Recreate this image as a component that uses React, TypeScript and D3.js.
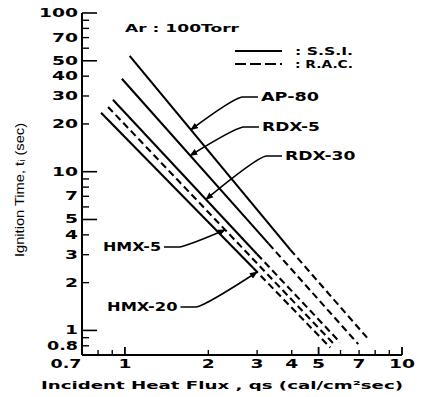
import React from "react";
import * as d3 from "d3";

// Axis ticks (log-log)
const xTickValues = [1, 2, 3, 4, 5, 7, 10];
const xMinorTicks = [0.8, 0.9, 2, 3, 4, 6, 7, 8, 9];
const xMajorTicks = [1, 5, 10];
const yTickValues = [100, 70, 50, 40, 30, 20, 10, 7, 5, 4, 3, 2, 1, 0.8];
const yMajorTicks = [100, 50, 10, 5, 1];
const yMinorTicks = [90, 80, 70, 60, 40, 30, 20, 9, 8, 7, 6, 4, 3, 2, 0.9, 0.8];

// Ignition time t_i (sec) vs incident heat flux q_s (cal/cm2 sec)
// S.S.I. (solid) and R.A.C. (dashed) lines, [q, t] end points
const AP80_SSI: [number, number][] = [[1.04, 53.7], [3.95, 3.23]];
const AP80_RAC: [number, number][] = [[3.95, 3.23], [7.48, 0.9]];
const RDX5_SSI: [number, number][] = [[0.975, 38.5], [3.3, 3.52]];
const RDX5_RAC: [number, number][] = [[3.3, 3.52], [6.95, 0.82]];
const RDX30_SSI: [number, number][] = [[0.905, 28.4], [3.0, 3.02]];
const RDX30_RAC: [number, number][] = [[3.0, 3.02], [5.98, 0.84]];
const HMX5_RAC: [number, number][] = [[0.869, 25.6], [5.74, 0.805]];
const HMX20_SSI: [number, number][] = [[0.82, 23.5], [2.9, 2.48]];
const HMX20_RAC: [number, number][] = [[2.9, 2.48], [5.51, 0.78]];

const ssiLines = [AP80_SSI, RDX5_SSI, RDX30_SSI, HMX20_SSI];
const racLines = [AP80_RAC, RDX5_RAC, RDX30_RAC, HMX5_RAC, HMX20_RAC];

// Labels with the heat flux at which each leader meets its line
const labelNames = ["AP-80", "RDX-5", "RDX-30", "HMX-5", "HMX-20"];
const labelLines = [AP80_SSI, RDX5_SSI, RDX30_SSI, HMX5_RAC, HMX20_RAC];
const labelTargetQ = [1.73, 1.72, 1.96, 2.3, 3.0];

const W = 427;
const H = 397;
const FONT = "'DejaVu Sans', sans-serif";

const x = d3.scaleLog().domain([0.7, 10]).range([82, 402]);
const y = d3.scaleLog().domain([0.7, 100]).range([355, 13]);

const line = d3
  .line<[number, number]>()
  .x((d) => x(d[0]))
  .y((d) => y(d[1]));

// point on a straight log-log line at heat flux q
function onLine(pts: [number, number][], q: number): [number, number] {
  const [a, b] = pts;
  const f = (Math.log(q) - Math.log(a[0])) / (Math.log(b[0]) - Math.log(a[0]));
  const lt = Math.log(a[1]) + f * (Math.log(b[1]) - Math.log(a[1]));
  return [x(q), y(Math.exp(lt))];
}

function fmt(v: number) {
  return String(v);
}

// width of the wide lettering used on this chart
function wideWidth(s: string, digit = 13) {
  let w = 0;
  for (const c of s) {
    if (c === "." || c === ":") w += 5;
    else if (c === " ") w += 5;
    else if (c === "-") w += 8;
    else w += digit;
  }
  return w;
}

type WTProps = {
  x: number;
  y: number;
  text: string;
  size?: number;
  anchor?: "start" | "middle" | "end";
  digit?: number;
};

function WideText({ x: px, y: py, text, size = 12, anchor = "start", digit = 13 }: WTProps) {
  return (
    <text
      x={px}
      y={py}
      fontFamily={FONT}
      fontWeight="bold"
      fontSize={size}
      textAnchor={anchor}
      dominantBaseline="central"
      textLength={wideWidth(text, digit)}
      lengthAdjust="spacingAndGlyphs"
      fill="#000"
    >
      {text}
    </text>
  );
}

// leader positions for each label: [text x, text y, side]
const labelPos: [number, number, "left" | "right"][] = [
  [261, 97, "right"],
  [262, 127, "right"],
  [285, 156, "right"],
  [103, 247, "left"],
  [107, 307, "left"],
];

export default function App() {
  const axisY = y(0.7);
  const axisX = x(0.7);

  return (
    <svg width={W} height={H} style={{ position: "absolute", left: 0, top: 0, background: "#fff" }}>
      <defs>
        <marker id="arrow" viewBox="0 0 10 10" refX="9" refY="5" markerWidth="5" markerHeight="5" orient="auto">
          <path d="M0,1 L10,5 L0,9 z" fill="#000" />
        </marker>
      </defs>
      <rect width={W} height={H} fill="#fff" />

      {/* axes */}
      <line x1={axisX} x2={x(10)} y1={axisY} y2={axisY} stroke="#000" strokeWidth={2} />
      <line x1={axisX} x2={axisX} y1={axisY} y2={y(100)} stroke="#000" strokeWidth={2} />

      {yMajorTicks.map((v) => (
        <line key={"ym" + v} x1={axisX} x2={axisX + 15} y1={y(v)} y2={y(v)} stroke="#000" strokeWidth={1.6} />
      ))}
      {yMinorTicks.map((v) => (
        <line key={"yn" + v} x1={axisX} x2={axisX + 7} y1={y(v)} y2={y(v)} stroke="#000" strokeWidth={1.4} />
      ))}
      {xMajorTicks.map((v) => (
        <line key={"xm" + v} x1={x(v)} x2={x(v)} y1={axisY} y2={axisY - 8} stroke="#000" strokeWidth={1.8} />
      ))}
      {xMinorTicks.map((v) => (
        <line key={"xn" + v} x1={x(v)} x2={x(v)} y1={axisY} y2={axisY - 5} stroke="#000" strokeWidth={1.4} />
      ))}

      {yTickValues.map((v) => (
        <WideText key={"yl" + v} x={78} y={y(v)} text={fmt(v)} size={12} anchor="end" />
      ))}
      {xTickValues.map((v) => (
        <WideText key={"xl" + v} x={x(v)} y={364} text={fmt(v)} size={12} anchor="middle" />
      ))}
      <WideText x={66} y={364} text="0.7" size={12} anchor="middle" />

      {/* axis titles */}
      <text
        x={222}
        y={385}
        fontFamily={FONT}
        fontWeight="bold"
        fontSize={10.5}
        textAnchor="middle"
        dominantBaseline="central"
        textLength={362}
        lengthAdjust="spacingAndGlyphs"
      >
        Incident  Heat  Flux  ,  qs  (cal/cm²sec)
      </text>
      <text
        transform="translate(20,190) rotate(-90)"
        fontFamily="'Liberation Sans Narrow', 'Liberation Sans', sans-serif"
        fontSize={12}
        textAnchor="middle"
        dominantBaseline="central"
        textLength={134}
        lengthAdjust="spacingAndGlyphs"
      >
        Ignition Time, tᵢ (sec)
      </text>

      {/* data lines */}
      {ssiLines.map((pts, i) => (
        <path key={"s" + i} d={line(pts) ?? ""} fill="none" stroke="#000" strokeWidth={2.1} />
      ))}
      {racLines.map((pts, i) => (
        <path
          key={"r" + i}
          d={line(pts) ?? ""}
          fill="none"
          stroke="#000"
          strokeWidth={2.1}
          strokeDasharray="7,4"
        />
      ))}

      {/* condition and legend */}
      <WideText x={125} y={28} text="Ar : 100Torr" size={11} digit={11} />
      <line x1={235} x2={282} y1={51} y2={51} stroke="#000" strokeWidth={2} />
      <line x1={235} x2={282} y1={64} y2={64} stroke="#000" strokeWidth={2} strokeDasharray="11,4" />
      <WideText x={295} y={51} text=": S.S.I." size={11} digit={11} />
      <WideText x={295} y={64} text=": R.A.C." size={11} digit={11} />

      {/* material labels with leaders */}
      {labelNames.map((name, i) => {
        const [lx, ly, side] = labelPos[i];
        const [tx, ty] = onLine(labelLines[i], labelTargetQ[i]);
        const tw = wideWidth(name, 12.5);
        let d: string;
        if (side === "right") {
          const sx = lx - 3;
          const bx = sx - 16;
          d = `M${sx},${ly} L${bx},${ly} Q${bx - 10},${ly + 2} ${tx},${ty}`;
        } else {
          const sx = lx + tw + 3;
          const bx = sx + 16;
          d = `M${sx},${ly} L${bx},${ly} Q${bx + 10},${ly - 2} ${tx},${ty}`;
        }
        return (
          <g key={name}>
            <path d={d} fill="none" stroke="#000" strokeWidth={1.6} markerEnd="url(#arrow)" />
            <WideText x={lx} y={ly} text={name} size={12} digit={12.5} />
          </g>
        );
      })}
    </svg>
  );
}
